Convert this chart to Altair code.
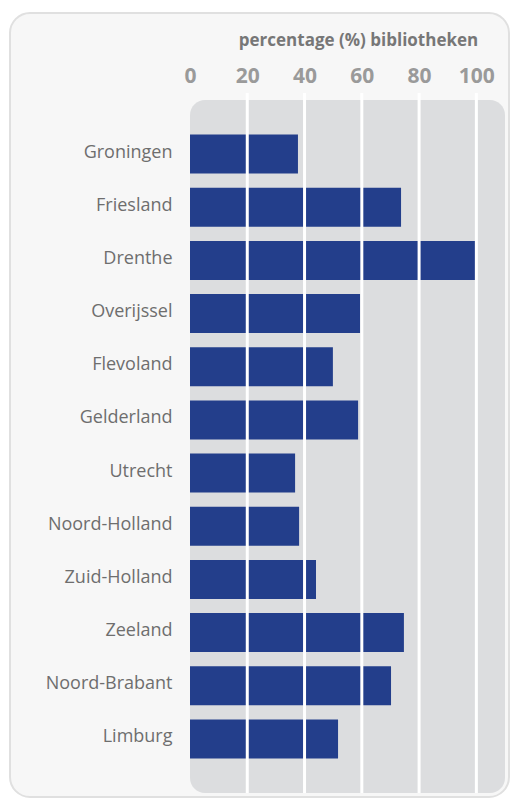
import altair as alt
import pandas as pd

provinces = ["Groningen", "Friesland", "Drenthe", "Overijssel", "Flevoland", "Gelderland",
             "Utrecht", "Noord-Holland", "Zuid-Holland", "Zeeland", "Noord-Brabant", "Limburg"]
percentages = [37.7, 73.7, 100.0, 59.4, 49.9, 58.7, 36.7, 38.1, 44.0, 74.7, 70.2, 51.7]
tick_values = [0, 20, 40, 60, 80, 100]
grid_values = [20, 40, 60, 80, 100]

W, H = 315, 693
FONT = "Open Sans"

df = pd.DataFrame({"provincie": provinces, "pct": percentages})
grid_df = pd.DataFrame({"v": grid_values})
one = pd.DataFrame({"a": [0]})

xscale = alt.Scale(domain=[0, 110], nice=False, zero=True)

card = alt.Chart(one).mark_rect(
    fill="#f7f7f7", stroke="#e0e0e0", strokeWidth=2, cornerRadius=20
).encode(
    x=alt.value(-180), x2=alt.value(319), y=alt.value(-87), y2=alt.value(697)
)

panel = alt.Chart(one).mark_rect(fill="#dcdddf", cornerRadius=15).encode(
    x=alt.value(0), x2=alt.value(W), y=alt.value(0), y2=alt.value(H)
)

bars = alt.Chart(df).mark_bar(color="#233e8b").encode(
    x=alt.X("pct:Q", scale=xscale,
            axis=alt.Axis(orient="top", values=tick_values, ticks=False, tickSize=0,
                          domain=False, grid=False, labelPadding=14, labelFlush=False,
                          labelFont=FONT, labelFontSize=21, labelFontWeight="bold",
                          labelColor="#9a9a9a", zindex=1,
                          title="percentage (%) bibliotheken", titleFont=FONT,
                          titleFontSize=17, titleFontWeight="bold", titleColor="#777777",
                          titleX=168, titleY=-55, titleAlign="center",
                          titleBaseline="alphabetic")),
    y=alt.Y("provincie:N", sort=provinces,
            scale=alt.Scale(paddingInner=0.267, paddingOuter=0.65),
            axis=alt.Axis(title=None, ticks=False, domain=False, grid=False,
                          labelPadding=18, labelFont=FONT, labelFontSize=18,
                          labelOffset=-1.5,
                          labelColor="#6e6e6e", zindex=1)),
)

grid = alt.Chart(grid_df).mark_rule(color="white", strokeWidth=3).encode(
    x=alt.X("v:Q", scale=xscale),
    y=alt.value(-7), y2=alt.value(H),
)

chart = alt.layer(card, panel, bars, grid).properties(
    width=W, height=H,
    autosize=alt.AutoSizeParams(type="none"),
    padding={"left": 182, "top": 92, "right": 6, "bottom": 6},
    background="white",
).configure_view(stroke=None, fill=None)

chart.save("out.html", embed_options={"renderer": "svg", "actions": False})
